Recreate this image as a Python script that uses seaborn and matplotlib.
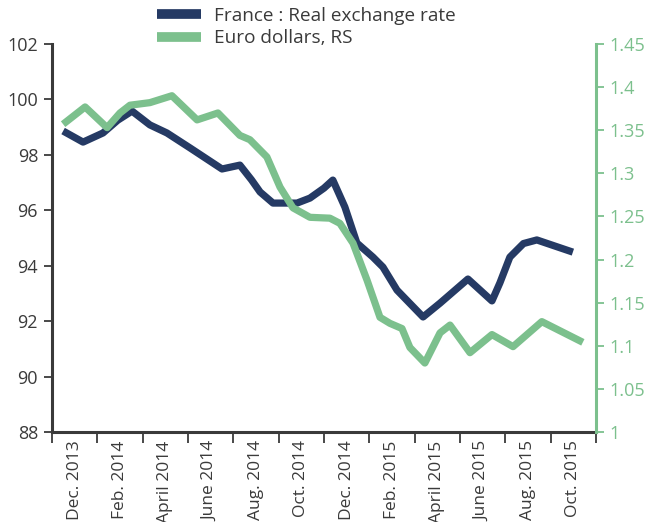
import pandas as pd
import matplotlib.pyplot as plt
import seaborn as sns

# Month position (0 = start of Dec. 2013 band) and values
france_month = [0.49, 1.37, 2.25, 2.90, 3.53, 4.32, 5.07, 6.09, 7.50, 8.29, 8.80, 9.18, 9.75, 10.81,
                11.38, 12.00, 12.39, 12.92, 13.45, 14.16, 14.60, 15.22, 16.37, 17.12, 18.35,
                19.41, 19.76, 20.20, 20.80, 21.39, 22.98]
france_rer = [98.86, 98.46, 98.79, 99.25, 99.58, 99.08, 98.79, 98.25, 97.49, 97.63, 97.10, 96.66, 96.26, 96.26,
              96.44, 96.80, 97.09, 96.12, 94.82, 94.31, 93.95, 93.12, 92.15, 92.65, 93.52,
              92.73, 93.38, 94.31, 94.80, 94.93, 94.49]

eurusd_month = [0.49, 1.46, 2.43, 3.00, 3.44, 4.32, 5.29, 6.40, 7.32, 8.29, 8.73, 9.48, 10.06,
                10.63, 11.38, 12.26, 12.70, 13.28, 13.90, 14.47, 14.91, 15.44, 15.79,
                16.45, 17.12, 17.56, 18.44, 19.41, 20.34, 21.61, 23.42]
eurusd = [1.357, 1.377, 1.353, 1.370, 1.379, 1.382, 1.390, 1.362, 1.370, 1.344, 1.339, 1.319, 1.284,
          1.260, 1.249, 1.248, 1.242, 1.219, 1.176, 1.133, 1.126, 1.120, 1.098,
          1.080, 1.115, 1.124, 1.092, 1.113, 1.099, 1.128, 1.104]

tick_labels = ['Dec. 2013', 'Feb. 2014', 'April 2014', 'June 2014', 'Aug. 2014', 'Oct. 2014',
               'Dec. 2014', 'Feb. 2015', 'April 2015', 'June 2015', 'Aug. 2015', 'Oct. 2015']

navy = '#253a64'
green = '#7cc08d'
text_col = '#3a3a3a'

df_fr = pd.DataFrame({'month': france_month, 'value': france_rer})
df_eu = pd.DataFrame({'month': eurusd_month, 'value': eurusd})

sns.set_style('white')
plt.rcParams['font.family'] = ['Open Sans', 'DejaVu Sans']

fig = plt.figure(figsize=(6.46, 5.22), dpi=100)
ax = fig.add_axes([52 / 646, 1 - 432 / 522, 544 / 646, 388 / 522])
ax2 = ax.twinx()

sns.lineplot(data=df_fr, x='month', y='value', ax=ax, color=navy, linewidth=5.2,
             solid_capstyle='butt', solid_joinstyle='round', label='France : Real exchange rate',
             legend=False)
sns.lineplot(data=df_eu, x='month', y='value', ax=ax2, color=green, linewidth=5.2,
             solid_capstyle='butt', solid_joinstyle='round', label='Euro dollars, RS',
             legend=False)

ax.set_xlim(0, 24)
ax.set_ylim(88, 102)
ax2.set_ylim(1, 1.45)
ax.set_yticks(range(88, 103, 2))
r_ticks = [1 + 0.05 * i for i in range(10)]
ax2.set_yticks(r_ticks)
ax2.set_yticklabels(['%g' % round(t, 2) for t in r_ticks])

# band boundaries as major ticks, labels centred in each band
ax.set_xticks(range(0, 25, 2))
ax.set_xticklabels([])
ax.set_xticks([1 + 2 * i for i in range(12)], minor=True)
ax.set_xticklabels(tick_labels, minor=True, rotation=90, fontsize=12.5, color=text_col)
ax.tick_params(axis='x', which='major', direction='out', length=8, width=1.3, color=text_col, bottom=True)
ax.tick_params(axis='x', which='minor', length=0, pad=6)
ax.tick_params(axis='y', direction='out', length=6, width=1.3, color=text_col, labelsize=13,
               labelcolor=text_col, left=True, pad=4)
ax2.tick_params(axis='y', direction='out', length=6, width=1.3, color=green, labelsize=13,
                labelcolor=green, right=True, pad=4)

ax.set_xlabel('')
ax.set_ylabel('')
ax2.set_ylabel('')

for s in ['top', 'right']:
    ax.spines[s].set_visible(False)
ax.spines['left'].set_color(text_col)
ax.spines['left'].set_linewidth(2.2)
ax.spines['bottom'].set_color(text_col)
ax.spines['bottom'].set_linewidth(2.2)
ax2.spines['top'].set_visible(False)
ax2.spines['left'].set_visible(False)
ax2.spines['bottom'].set_visible(False)
ax2.spines['right'].set_color(green)
ax2.spines['right'].set_linewidth(2.2)

h1, l1 = ax.get_legend_handles_labels()
h2, l2 = ax2.get_legend_handles_labels()
leg = fig.legend(h1 + h2, l1 + l2, loc='upper left', bbox_to_anchor=(140 / 646, 1.02),
                 frameon=False, fontsize=13.7, handlelength=2.3, handletextpad=0.7,
                 labelspacing=0.25, labelcolor=text_col)
for line in leg.get_lines():
    line.set_linewidth(7)

fig.savefig('out.png', dpi=100)
